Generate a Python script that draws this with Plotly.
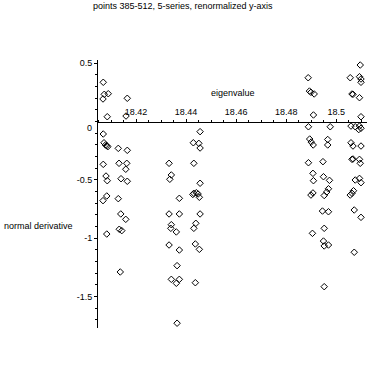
import plotly.graph_objects as go

# eigenvalue / normal-derivative pairs (grouped by cluster)
eig_a = [18.4069, 18.4073, 18.4089, 18.4068, 18.4165, 18.4085, 18.4160, 18.4069,
         18.4072, 18.4078, 18.4083, 18.4087, 18.4129, 18.4165, 18.4069, 18.4132,
         18.4163, 18.4159, 18.4080, 18.4085, 18.4140, 18.4165, 18.4068, 18.4083,
         18.4129, 18.4139, 18.4159, 18.4133, 18.4143, 18.4083, 18.4137]
der_a = [0.336, 0.233, 0.238, 0.193, 0.199, 0.041, 0.047, -0.107,
         -0.182, -0.201, -0.207, -0.216, -0.230, -0.247, -0.367, -0.358,
         -0.358, -0.409, -0.467, -0.507, -0.490, -0.512, -0.678, -0.638,
         -0.661, -0.792, -0.838, -0.923, -0.935, -0.964, -1.289]

eig_b = [18.4456, 18.4429, 18.4451, 18.4456, 18.4332, 18.4431, 18.4341, 18.4335,
         18.4456, 18.4431, 18.4427, 18.4441, 18.4448, 18.4453, 18.4373, 18.4332,
         18.4373, 18.4456, 18.4341, 18.4339, 18.4361, 18.4439, 18.4431, 18.4332,
         18.4373, 18.4437, 18.4453, 18.4364, 18.4341, 18.4361, 18.4373, 18.4437,
         18.4364]
der_b = [-0.087, -0.182, -0.187, -0.227, -0.358, -0.358, -0.458, -0.495,
         -0.529, -0.615, -0.625, -0.610, -0.621, -0.649, -0.658, -0.792,
         -0.792, -0.792, -0.884, -0.915, -0.946, -0.872, -0.915, -1.058,
         -1.101, -1.049, -1.095, -1.235, -1.352, -1.386, -1.352, -1.381,
         -1.728]

eig_c = [18.4888, 18.4893, 18.4899, 18.4912, 18.4909, 18.4889, 18.4976, 18.4894,
         18.4900, 18.4908, 18.4966, 18.4966, 18.4889, 18.4947, 18.4907, 18.4909,
         18.4949, 18.4973, 18.4899, 18.4907, 18.4952, 18.4962, 18.4969, 18.4945,
         18.4969, 18.4905, 18.4952, 18.4949, 18.4952, 18.4969, 18.4952]
der_c = [0.375, 0.261, 0.250, 0.236, 0.056, -0.045, -0.045, -0.150,
         -0.176, -0.201, -0.154, -0.201, -0.353, -0.344, -0.444, -0.507,
         -0.473, -0.504, -0.630, -0.612, -0.634, -0.604, -0.576, -0.767,
         -0.773, -0.958, -0.915, -1.024, -1.066, -1.058, -1.415]

eig_d = [18.5056, 18.5096, 18.5093, 18.5099, 18.5099, 18.5063, 18.5067, 18.5093,
         18.5099, 18.5059, 18.5076, 18.5093, 18.5099, 18.5090, 18.5059, 18.5067,
         18.5099, 18.5063, 18.5067, 18.5093, 18.5096, 18.5076, 18.5093, 18.5099,
         18.5056, 18.5063, 18.5069, 18.5072, 18.5099, 18.5072]
der_d = [0.375, 0.484, 0.384, 0.364, 0.336, 0.236, 0.233, 0.204,
         0.041, -0.039, -0.045, -0.039, -0.058, -0.069, -0.182, -0.210,
         -0.210, -0.324, -0.321, -0.324, -0.358, -0.501, -0.487, -0.524,
         -0.630, -0.615, -0.593, -0.758, -0.821, -1.120]

x_ticks = [18.42, 18.44, 18.46, 18.48, 18.50]
x_tick_text = ["18.42", "18.44", "18.46", "18.48", "18.5"]
y_ticks = [-1.5, -1.0, -0.5, 0.5]
y_tick_text = ["-1.5", "-1", "-0.5", "0.5"]

title_text = "points 385-512, 5-series, renormalized y-axis"
x_label = "eigenvalue"
y_label = "normal derivative"

x_range = [18.4048, 18.5123]
y_range = [-1.769, 0.527]

FONT = "Liberation Sans"

fig = go.Figure()
fig.add_trace(go.Scatter(
    x=eig_a + eig_b + eig_c + eig_d,
    y=der_a + der_b + der_c + der_d,
    mode="markers",
    marker=dict(symbol="diamond-open", size=5, color="black",
                line=dict(width=1, color="black")),
    showlegend=False,
    hoverinfo="x+y",
))

x_pos = (0 - y_range[0]) / (y_range[1] - y_range[0])

fig.update_layout(
    width=370, height=370,
    margin=dict(l=98, r=3, t=60, b=42),
    paper_bgcolor="white", plot_bgcolor="white",
    font=dict(family=FONT, size=9, color="black"),
    xaxis=dict(
        range=x_range, anchor="free", position=x_pos, side="top",
        showline=True, linecolor="black", linewidth=1,
        showgrid=False, zeroline=False,
        tickvals=x_ticks, ticktext=x_tick_text,
        ticks="outside", ticklen=3, tickcolor="black", tickwidth=1,
        minor=dict(dtick=0.005, ticks="outside", ticklen=2,
                   tickcolor="black", tickwidth=1, showgrid=False),
        tickfont=dict(family=FONT, size=9, color="black"),
        fixedrange=True,
    ),
    yaxis=dict(
        range=y_range, anchor="x",
        showline=True, linecolor="black", linewidth=1,
        showgrid=False, zeroline=False,
        tickvals=y_ticks, ticktext=y_tick_text,
        ticks="outside", ticklen=3, tickcolor="black", tickwidth=1,
        minor=dict(dtick=0.1, ticks="outside", ticklen=2,
                   tickcolor="black", tickwidth=1, showgrid=False),
        tickfont=dict(family=FONT, size=9, color="black"),
        fixedrange=True,
    ),
    annotations=[
        dict(text=title_text, xref="paper", yref="paper",
             x=(182.5 - 98) / 269, y=(328 - 6) / 268,
             xanchor="center", yanchor="middle", showarrow=False,
             font=dict(family=FONT, size=9, color="black")),
        dict(text=x_label, xref="paper", yref="paper",
             x=(232.5 - 98) / 269, y=(328 - 93) / 268,
             xanchor="center", yanchor="middle", showarrow=False,
             font=dict(family=FONT, size=9, color="black")),
        dict(text=y_label, xref="paper", yref="paper",
             x=(2 - 98) / 269, y=(328 - 226) / 268,
             xanchor="left", yanchor="middle", showarrow=False,
             font=dict(family=FONT, size=9, color="black")),
        dict(text="0", xref="paper", yref="y", x=0, y=0,
             xanchor="right", yanchor="middle", xshift=-4, yshift=-6,
             showarrow=False, font=dict(family=FONT, size=9, color="black")),
    ],
)

fig.write_html("out.html", config={"displayModeBar": False},
               post_script="document.body.style.margin='0';")
